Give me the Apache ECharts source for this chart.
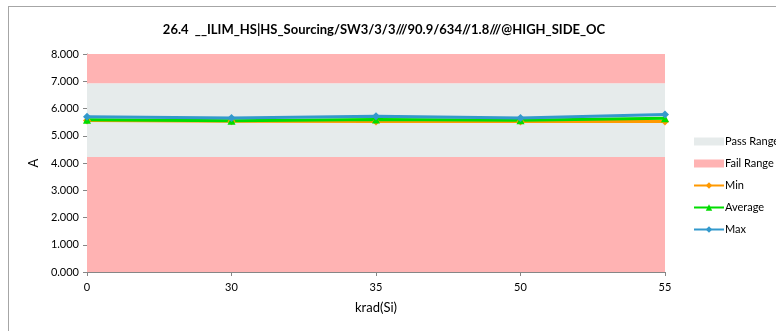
<!DOCTYPE html>
<html>
<head>
<meta charset="utf-8">
<script src="https://cdn.jsdelivr.net/npm/echarts@6/dist/echarts.min.js"></script>
<style>
    html, body { margin: 0; padding: 0; background: #fff; }
    #chart { width: 776px; height: 331px; }
</style>
</head>
<body>
<div id="chart"></div>
<script>
// 数据
var categories = ['0', '30', '35', '50', '55']
var minValues = [5.56, 5.53, 5.52, 5.52, 5.52]
var avgValues = [5.59, 5.55, 5.60, 5.57, 5.64]
var maxValues = [5.70, 5.65, 5.72, 5.65, 5.78]
var passLow = 4.22
var passHigh = 6.93
var axisMin = 0
var axisMax = 8

var font = 'Lato'

function lineSeries(name, values, color, symbol, size) {
    return {
        name: name,
        type: 'line',
        data: values,
        symbol: symbol,
        symbolSize: size,
        itemStyle: { color: color },
        lineStyle: { color: color, width: 3 },
        z: 5
    }
}

var option = {
    animation: false,
    textStyle: { fontFamily: font },
    title: {
        text: '26.4  __ILIM_HS|HS_Sourcing/SW3/3/3///90.9/634//1.8///@HIGH_SIDE_OC',
        left: 379,
        top: 18,
        textAlign: 'center',
        textStyle: { fontSize: 13, fontWeight: 'bold', color: '#000', fontFamily: font }
    },
    graphic: [
        { type: 'line', shape: { x1: 8.5, y1: 6, x2: 8.5, y2: 331 }, style: { stroke: '#a6a6a6', lineWidth: 1 } },
        { type: 'line', shape: { x1: 8, y1: 6.5, x2: 776, y2: 6.5 }, style: { stroke: '#a6a6a6', lineWidth: 1 } }
    ],
    grid: { left: 87, right: 111, top: 54, bottom: 59 },
    legend: {
        orient: 'vertical',
        left: 688,
        top: 131,
        itemGap: 11,
        itemWidth: 30,
        itemHeight: 8,
        textStyle: { fontSize: 11, color: '#000', fontFamily: font, padding: [0, 0, 0, -4] },
        data: [
            { name: 'Pass Range', icon: 'rect' },
            { name: 'Fail Range', icon: 'rect' },
            'Min', 'Average', 'Max'
        ]
    },
    xAxis: {
        type: 'category',
        data: categories,
        boundaryGap: false,
        name: 'krad(Si)',
        nameLocation: 'middle',
        nameGap: 29,
        nameTextStyle: { fontSize: 13, color: '#000', fontFamily: font },
        axisLine: { lineStyle: { color: '#868686' } },
        axisTick: { show: true, alignWithLabel: true, length: 4, lineStyle: { color: '#868686' } },
        axisLabel: { fontSize: 11, color: '#000', margin: 10 },
        splitLine: { show: false }
    },
    yAxis: {
        type: 'value',
        min: axisMin,
        max: axisMax,
        interval: 1,
        name: 'A',
        nameLocation: 'middle',
        nameGap: 47,
        nameRotate: 90,
        nameTextStyle: { fontSize: 13, color: '#000', fontFamily: font },
        axisLine: { show: true, lineStyle: { color: '#868686' } },
        axisTick: { show: true, length: 4, lineStyle: { color: '#868686' } },
        axisLabel: { fontSize: 11, color: '#000', formatter: function (v) { return v.toFixed(3) } },
        splitLine: { show: false }
    },
    series: [
        {
            name: 'Pass Range',
            type: 'line',
            data: [],
            itemStyle: { color: '#e6ebeb' },
            lineStyle: { width: 0 },
            symbol: 'none',
            markArea: {
                silent: true,
                itemStyle: { color: '#e6ebeb' },
                data: [[{ yAxis: passLow }, { yAxis: passHigh }]]
            },
            z: 1
        },
        {
            name: 'Fail Range',
            type: 'line',
            data: [],
            itemStyle: { color: '#ffb3b3' },
            lineStyle: { width: 0 },
            symbol: 'none',
            markArea: {
                silent: true,
                itemStyle: { color: '#ffb3b3' },
                data: [
                    [{ yAxis: axisMin }, { yAxis: passLow }],
                    [{ yAxis: passHigh }, { yAxis: axisMax }]
                ]
            },
            z: 1
        },
        lineSeries('Min', minValues, '#ff9900', 'diamond', 8),
        lineSeries('Average', avgValues, '#00dd00', 'triangle', 8),
        lineSeries('Max', maxValues, '#3399cc', 'diamond', 8)
    ]
}

var chart = echarts.init(document.getElementById('chart'))
chart.setOption(option)
</script>
</body>
</html>
